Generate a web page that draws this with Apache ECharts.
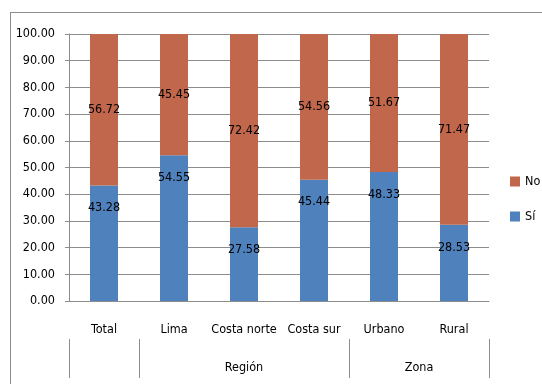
<!DOCTYPE html>
<html>
<head>
<meta charset="utf-8">
<script src="https://cdn.jsdelivr.net/npm/echarts@6/dist/echarts.min.js"></script>
<style>
html,body{margin:0;padding:0;background:#fff;}
#chart{width:542px;height:384px;}
#frame{position:absolute;left:10px;top:12px;width:600px;height:500px;border-left:1px solid #8c8c8c;border-top:1px solid #8c8c8c;pointer-events:none;}
</style>
</head>
<body>
<div id="chart"></div>
<div id="frame"></div>
<script>
const categories = ['Total', 'Lima', 'Costa norte', 'Costa sur', 'Urbano', 'Rural'];
const siValues = [43.28, 54.55, 27.58, 45.44, 48.33, 28.53];
const noValues = [56.72, 45.45, 72.42, 54.56, 51.67, 71.47];
const groupNames = ['Región', 'Zona'];
const groupCenters = [2.5, 5];
const groupBounds = [0, 1, 4, 6];
const yTicks = [0, 10, 20, 30, 40, 50, 60, 70, 80, 90, 100];

const FONT = '"DejaVu Sans Condensed", "Liberation Sans Narrow", sans-serif';
const FS = 12.5;
const LINE = '#8c8c8c';

const chart = echarts.init(document.getElementById('chart'));
chart.setOption({
  animation: false,
  textStyle: { fontFamily: FONT },
  grid: { left: 69, right: 53, top: 34, bottom: 83 },
  legend: {
    data: ['No', 'Sí'],
    orient: 'vertical',
    left: 510,
    top: 175,
    padding: 0,
    itemWidth: 10,
    itemHeight: 10,
    itemGap: 22,
    icon: 'rect',
    textStyle: { fontFamily: FONT, fontSize: FS, color: '#000' }
  },
  xAxis: [
    {
      type: 'category',
      data: categories,
      axisLine: { lineStyle: { color: LINE } },
      axisTick: { length: 38, lineStyle: { color: LINE } },
      axisLabel: { margin: 22, fontFamily: FONT, fontSize: FS, color: '#000', interval: 0 }
    },
    {
      type: 'value',
      position: 'bottom',
      offset: 38,
      min: 0,
      max: groupBounds[groupBounds.length - 1],
      axisLine: { show: false },
      splitLine: { show: false },
      axisTick: { show: true, customValues: groupBounds, length: 39, lineStyle: { color: LINE } },
      axisLabel: {
        customValues: groupCenters,
        margin: 22,
        fontFamily: FONT, fontSize: FS, color: '#000',
        formatter: function (v) {
          const i = groupCenters.indexOf(v);
          return i >= 0 ? groupNames[i] : '';
        }
      }
    }
  ],
  yAxis: {
    type: 'value',
    min: yTicks[0],
    max: yTicks[yTicks.length - 1],
    interval: 10,
    axisLine: { show: true, lineStyle: { color: LINE } },
    axisTick: { show: true, length: 4, lineStyle: { color: LINE } },
    splitLine: { lineStyle: { color: LINE } },
    axisLabel: {
      margin: 14,
      fontFamily: FONT, fontSize: FS, color: '#000',
      formatter: function (v) { return v.toFixed(2); }
    }
  },
  series: [
    {
      name: 'Sí',
      type: 'bar',
      stack: 'total',
      barWidth: 28,
      data: siValues,
      itemStyle: { color: '#4f81bd' },
      label: {
        show: true, position: 'insideTop', distance: 16,
        fontFamily: FONT, fontSize: FS, color: '#000',
        formatter: function (p) { return p.value.toFixed(2); }
      }
    },
    {
      name: 'No',
      type: 'bar',
      stack: 'total',
      barWidth: 28,
      data: noValues,
      itemStyle: { color: '#c0674c' },
      label: {
        show: true, position: 'inside',
        fontFamily: FONT, fontSize: FS, color: '#000',
        formatter: function (p) { return p.value.toFixed(2); }
      }
    }
  ]
});
</script>
</body>
</html>
